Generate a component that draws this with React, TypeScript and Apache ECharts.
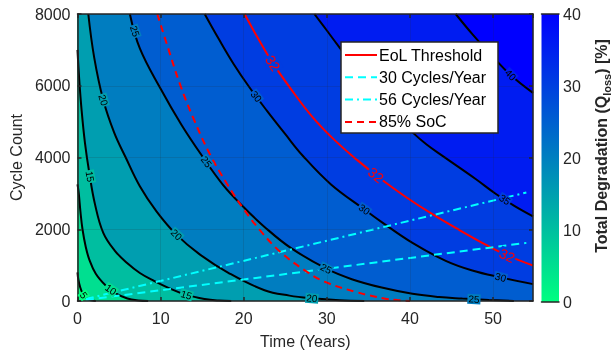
import React, { useEffect, useRef } from "react";
import * as echarts from "echarts";

const FONT = '"Liberation Sans", Arial, Helvetica, sans-serif';
const AXIS_COLOR = "#262626";

// ---- axes ----
const TIME_MAX = 54.8;
const timeTicks = [0, 10, 20, 30, 40, 50];
const cycleTicks = [0, 2000, 4000, 6000, 8000];
const degradationTicks = [0, 10, 20, 30, 40];

// ---- contour levels of total degradation [%] ----
const contourLevels = [5, 10, 15, 20, 25, 30, 35, 40];

// contour lines: [time (years), cycle count]
const level5 = [[0, 800], [0.1, 600], [0.3, 400], [0.6, 220], [1.0, 90], [1.5, 25], [2.2, 0]];
const level10 = [[0, 3250], [0.15, 3000], [0.35, 2500], [0.6, 2000], [1.0, 1500], [1.4, 1170], [2.2, 760], [3.4, 430], [4.6, 210], [6.0, 70], [7.3, 15], [8.5, 0]];
const level15 = [[0, 7000], [0.2, 6200], [0.5, 5300], [0.9, 4400], [1.4, 3600], [2.1, 2700], [3.1, 1900], [4.5, 1400], [6.0, 1050], [7.5, 780], [9.2, 560], [11, 360], [13.1, 170], [15.3, 55], [17, 12], [18.5, 0]];
const level20 = [[1.3, 8000], [2.0, 6800], [3.1, 5600], [4.4, 4700], [5.8, 4000], [7.5, 3200], [9.5, 2500], [11.9, 1850], [14.7, 1300], [18.2, 780], [22.5, 300], [25.5, 150], [28.2, 75], [31.5, 20], [34.5, 0]];
const level25 = [[6.3, 8000], [7.5, 7040], [10, 5915], [12.5, 4915], [15, 4040], [17.5, 3240], [20, 2615], [22.5, 2065], [25.7, 1473], [30, 893], [33, 608], [36.6, 374], [40.3, 200], [43.5, 110], [46.3, 68], [49.5, 28], [52.5, 0]];
const level30 = [[15.3, 8000], [17.0, 7300], [18.8, 6600], [20.7, 5950], [22.8, 5300], [25.0, 4650], [27.1, 4050], [30.5, 3250], [34.5, 2555], [36.6, 2200], [40.3, 1620], [44.3, 1120], [47.5, 850], [50.9, 658], [54.8, 470]];
const level35 = [[28.5, 8000], [30, 7540], [31.6, 7040], [34.5, 6150], [37.5, 5330], [40.3, 4700], [42, 4360], [44, 4030], [47.9, 3400], [50.3, 2990], [52.5, 2660], [54.8, 2360]];
const level40 = [[45.5, 8000], [47.5, 7440], [50, 6800], [52.1, 6300], [54.8, 5800]];
const contourLines = [level5, level10, level15, level20, level25, level30, level35, level40];

// EoL threshold (32 % contour), 85 % SoC threshold, usage lines
const eolThreshold = [[20.1, 8000], [21.7, 7330], [23.5, 6630], [25.8, 5870], [28.3, 5120], [31, 4470], [33.7, 3920], [36.5, 3400], [39.5, 2900], [42.7, 2420], [46, 1970], [49.1, 1570], [51.7, 1270], [54.8, 990]];
const soc85 = [[9.6, 8000], [10.9, 7050], [12.3, 6060], [14, 5060], [16, 4060], [18, 3260], [20, 2560], [22, 1960], [24.3, 1390], [27.3, 860], [29.7, 540], [33.7, 240], [36.9, 70], [38.5, 25], [40, 0]];
const cycles30 = [[1, 30], [54, 1620]];
const cycles56 = [[1, 56], [54, 3024]];

// inline contour labels: [time, cycles, text, rotation]
const contourLabels: [number, number, string, number][] = [
  [0.75, 160, "5", -55],
  [4.0, 320, "10", -35],
  [1.5, 3470, "15", -80],
  [13.1, 170, "15", -17],
  [3.1, 5600, "20", -74],
  [11.9, 1850, "20", -44],
  [28.2, 75, "20", -5],
  [6.9, 7520, "25", -72],
  [15.5, 3880, "25", -52],
  [29.9, 900, "25", -28],
  [47.7, 52, "25", -3],
  [21.5, 5700, "30", -53],
  [34.5, 2555, "30", -36],
  [50.9, 658, "30", -15],
  [51.4, 2825, "35", -34],
  [52.1, 6300, "40", -45],
];
const eolLabels: [number, number, string, number][] = [
  [23.5, 6630, "32", -58],
  [35.9, 3510, "32", -39],
  [51.7, 1270, "32", -25],
];

// legend entries
const legendNames = ["EoL Threshold", "30 Cycles/Year", "56 Cycles/Year", "85% SoC"];

// winter colormap sampled at 0,5,...,40
const bandColors = [
  "rgb(0,255,128)", "rgb(0,223,144)", "rgb(0,190,160)", "rgb(0,158,176)", "rgb(0,125,192)",
  "rgb(0,93,208)", "rgb(0,61,225)", "rgb(0,28,241)", "rgb(0,0,255)",
];

const SMOOTH = 0.4;

export default function App() {
  const ref = useRef<HTMLDivElement>(null);
  useEffect(() => {
    if (!ref.current) return;
    const chart = echarts.init(ref.current, undefined, { renderer: "svg" });
    const series: any[] = [];
    contourLines.forEach((pts, i) => {
      const endsAtBottom = pts[pts.length - 1][1] === 0;
      const area = endsAtBottom ? [...pts, [TIME_MAX, 0]] : pts;
      series.push({
        name: "fill " + contourLevels[i],
        type: "line", xAxisIndex: 0, yAxisIndex: 0, data: area, smooth: SMOOTH, symbol: "none", silent: true,
        lineStyle: { width: 0, opacity: 0 },
        areaStyle: { origin: "end", color: bandColors[i + 1], opacity: 1 }, z: 1,
      });
    });
    contourLines.forEach((pts, i) => {
      series.push({
        name: "contour " + contourLevels[i],
        type: "line", xAxisIndex: 0, yAxisIndex: 0, data: pts, smooth: SMOOTH, symbol: "none", silent: true,
        lineStyle: { color: "#000", width: 2 }, z: 2,
      });
    });
    const styles = [
      { color: "#ff0000", width: 2, type: "solid" as any },
      { color: "#00ffff", width: 2, type: [8, 5] },
      { color: "#00ffff", width: 2, type: [8, 4, 2, 4] },
      { color: "#ff0000", width: 2, type: [7, 5] },
    ];
    series.push(
      { name: legendNames[0], type: "line", data: eolThreshold, smooth: SMOOTH, symbol: "none", lineStyle: styles[0], z: 2 },
      { name: legendNames[1], type: "line", data: cycles30, symbol: "none", lineStyle: styles[1], z: 2 },
      { name: legendNames[2], type: "line", data: cycles56, symbol: "none", lineStyle: styles[2], z: 2 },
      { name: legendNames[3], type: "line", data: soc85, smooth: SMOOTH, symbol: "none", lineStyle: styles[3], z: 2 },
    );

    // inline labels drawn through the axes' scales (custom series)
    const labelSeries = (arr: [number, number, string, number][], color: string, size: number, bg: (s: string) => string) => ({
      type: "custom", xAxisIndex: 0, yAxisIndex: 0, silent: true, z: 6, clip: false,
      data: arr.map(([t, n], i) => [t, n, i]),
      renderItem: (_p: any, api: any) => {
        const item = arr[api.value(2)];
        const pt = api.coord([api.value(0), api.value(1)]);
        return {
          type: "text", x: pt[0], y: pt[1], rotation: (item[3] * Math.PI) / 180,
          style: {
            text: item[2], fontSize: size, fontFamily: FONT, fill: color, align: "center", verticalAlign: "middle",
            backgroundColor: bg(item[2]), padding: [0, 1],
          },
        };
      },
    });
    series.push(
      labelSeries(contourLabels, "#000", 10, (s) => bandColors[Number(s) / 5 - 1]),
      labelSeries(eolLabels, "#ff0000", 14, () => bandColors[6]),
    );
    series.push({
      type: "bar", xAxisIndex: 2, yAxisIndex: 2, data: [degradationTicks[degradationTicks.length - 1]], barWidth: "100%", silent: true,
      itemStyle: {
        color: new echarts.graphic.LinearGradient(0, 0, 0, 1, [
          { offset: 0, color: bandColors[8] },
          { offset: 1, color: bandColors[0] },
        ]),
      },
    });

    const lineAxis = { lineStyle: { color: AXIS_COLOR, width: 1.5 } };
    const tick = { inside: true, length: 4, lineStyle: { color: AXIS_COLOR, width: 1.5 } };
    const lab = { fontSize: 16, color: AXIS_COLOR, fontFamily: FONT };
    const grid = { show: true, lineStyle: { color: "rgba(38,38,38,0.15)", width: 1 } };
    const fmt = (ticks: number[]) => (v: number) => (ticks.includes(v) ? String(v) : "");

    // manual legend
    const LX = 341, LY = 42, ROW = 22.3;
    const legendGraphics: any[] = [
      { type: "rect", shape: { x: LX, y: LY, width: 157, height: 91 }, style: { fill: "#fff", stroke: AXIS_COLOR, lineWidth: 1.5 }, z: 20 },
    ];
    legendNames.forEach((name, i) => {
      const y = LY + 13 + i * ROW;
      const st = styles[i];
      legendGraphics.push(
        {
          type: "line", shape: { x1: LX + 4, y1: y, x2: LX + 36, y2: y }, z: 21,
          style: { stroke: st.color, lineWidth: 2, lineDash: Array.isArray(st.type) ? st.type : null },
        },
        {
          type: "text", x: LX + 38, y, z: 21,
          style: { text: name, fontSize: 16, fontFamily: FONT, fill: "#000", verticalAlign: "middle", align: "left" },
        },
      );
    });

    chart.setOption({
      animation: false,
      textStyle: { fontFamily: FONT },
      grid: [
        { left: 77.5, top: 14, width: 455.5, height: 288, show: true, backgroundColor: bandColors[0], borderWidth: 0 },
        { left: 541.5, top: 14, width: 17.5, height: 288 },
      ],
      xAxis: [
        {
          type: "value", gridIndex: 0, min: timeTicks[0], max: TIME_MAX, interval: 10, position: "bottom", z: 3,
          axisLine: { onZero: false, ...lineAxis }, axisTick: tick, axisLabel: { ...lab, margin: 9, formatter: fmt(timeTicks), showMaxLabel: false }, splitLine: grid,
          name: "Time (Years)", nameLocation: "middle", nameGap: 32, nameTextStyle: { fontSize: 16, color: AXIS_COLOR, fontFamily: FONT },
        },
        {
          type: "value", gridIndex: 0, min: timeTicks[0], max: TIME_MAX, interval: 10, position: "top", z: 3,
          axisLine: { onZero: false, ...lineAxis }, axisTick: tick, axisLabel: { show: false }, splitLine: { show: false },
        },
        {
          type: "category", gridIndex: 1, data: ["cb"], position: "bottom", z: 3,
          axisLine: { onZero: false, ...lineAxis }, axisTick: { show: false }, axisLabel: { show: false },
        },
        {
          type: "category", gridIndex: 1, data: ["cb"], position: "top", z: 3,
          axisLine: { onZero: false, ...lineAxis }, axisTick: { show: false }, axisLabel: { show: false },
        },
      ],
      yAxis: [
        {
          type: "value", gridIndex: 0, min: cycleTicks[0], max: cycleTicks[cycleTicks.length - 1], interval: 2000, position: "left", z: 3,
          axisLine: { onZero: false, ...lineAxis }, axisTick: tick, axisLabel: { ...lab, margin: 7, formatter: fmt(cycleTicks) }, splitLine: grid,
          name: "Cycle Count", nameLocation: "middle", nameGap: 48, nameTextStyle: { fontSize: 16, color: AXIS_COLOR, fontFamily: FONT },
        },
        {
          type: "value", gridIndex: 0, min: cycleTicks[0], max: cycleTicks[cycleTicks.length - 1], interval: 2000, position: "right", z: 3,
          axisLine: { onZero: false, ...lineAxis }, axisTick: tick, axisLabel: { show: false }, splitLine: { show: false },
        },
        {
          type: "value", gridIndex: 1, min: degradationTicks[0], max: degradationTicks[degradationTicks.length - 1], interval: 10, position: "right", z: 3,
          axisLine: { onZero: false, ...lineAxis }, axisTick: tick, axisLabel: { ...lab, margin: 4, formatter: fmt(degradationTicks) }, splitLine: { show: false },
        },
        {
          type: "value", gridIndex: 1, min: degradationTicks[0], max: degradationTicks[degradationTicks.length - 1], interval: 10, position: "left", z: 3,
          axisLine: { onZero: false, ...lineAxis }, axisTick: { show: false }, axisLabel: { show: false }, splitLine: { show: false },
        },
      ],
      graphic: [
        ...legendGraphics,
        {
          type: "text", x: 601, y: 146, rotation: Math.PI / 2, z: 10,
          style: {
            text: "{a|Total Degradation (Q}{b|loss}{a|) [%]}", align: "center", verticalAlign: "middle",
            rich: {
              a: { fontSize: 16, fontWeight: "bold", fontFamily: FONT, fill: AXIS_COLOR, lineHeight: 22, verticalAlign: "middle" },
              b: { fontSize: 11, fontWeight: "bold", fontFamily: FONT, fill: AXIS_COLOR, lineHeight: 12, verticalAlign: "bottom" },
            },
          },
        },
      ],
      series,
    });
    return () => chart.dispose();
  }, []);
  return <div ref={ref} style={{ position: "fixed", left: 0, top: 0, width: 615, height: 354 }} />;
}
